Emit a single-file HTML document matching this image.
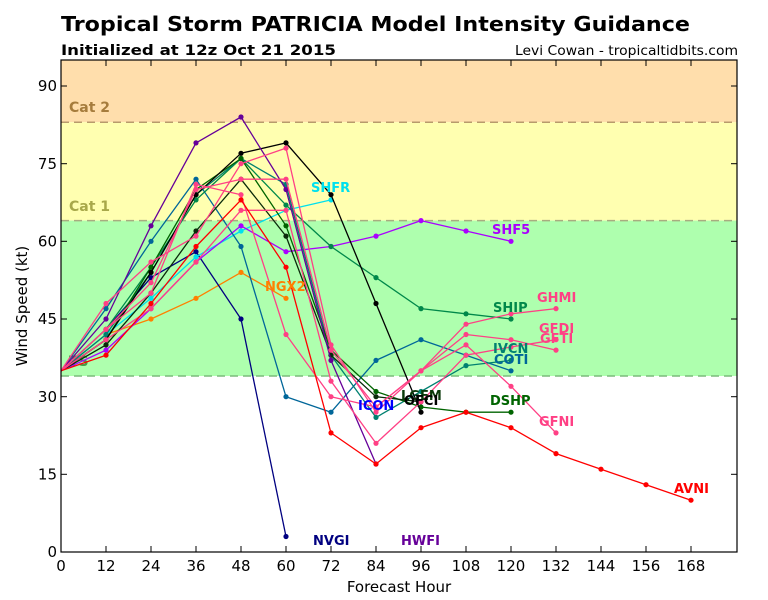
<!DOCTYPE html>
<html><head><meta charset="utf-8"><style>
html,body{margin:0;padding:0;background:#fff;}
svg{display:block;font-family:"DejaVu Sans","Liberation Sans",sans-serif;}
</style></head><body>
<svg width="768" height="600" viewBox="0 0 768 600" xmlns="http://www.w3.org/2000/svg">
<defs>
<marker id="mHW" markerUnits="userSpaceOnUse" markerWidth="6" markerHeight="6" refX="3" refY="3"><circle cx="3" cy="3" r="2.6" fill="#660099"/></marker>
<marker id="mOF" markerUnits="userSpaceOnUse" markerWidth="6" markerHeight="6" refX="3" refY="3"><circle cx="3" cy="3" r="2.6" fill="#000000"/></marker>
<marker id="mLG" markerUnits="userSpaceOnUse" markerWidth="6" markerHeight="6" refX="3" refY="3"><circle cx="3" cy="3" r="2.6" fill="#0a2a0a"/></marker>
<marker id="mDS" markerUnits="userSpaceOnUse" markerWidth="6" markerHeight="6" refX="3" refY="3"><circle cx="3" cy="3" r="2.6" fill="#006400"/></marker>
<marker id="mSH" markerUnits="userSpaceOnUse" markerWidth="6" markerHeight="6" refX="3" refY="3"><circle cx="3" cy="3" r="2.6" fill="#00884a"/></marker>
<marker id="mIV" markerUnits="userSpaceOnUse" markerWidth="6" markerHeight="6" refX="3" refY="3"><circle cx="3" cy="3" r="2.6" fill="#008070"/></marker>
<marker id="mCO" markerUnits="userSpaceOnUse" markerWidth="6" markerHeight="6" refX="3" refY="3"><circle cx="3" cy="3" r="2.6" fill="#006699"/></marker>
<marker id="mNV" markerUnits="userSpaceOnUse" markerWidth="6" markerHeight="6" refX="3" refY="3"><circle cx="3" cy="3" r="2.6" fill="#000080"/></marker>
<marker id="mSR" markerUnits="userSpaceOnUse" markerWidth="6" markerHeight="6" refX="3" refY="3"><circle cx="3" cy="3" r="2.6" fill="#00e0ee"/></marker>
<marker id="mS5" markerUnits="userSpaceOnUse" markerWidth="6" markerHeight="6" refX="3" refY="3"><circle cx="3" cy="3" r="2.6" fill="#aa00ff"/></marker>
<marker id="mNG" markerUnits="userSpaceOnUse" markerWidth="6" markerHeight="6" refX="3" refY="3"><circle cx="3" cy="3" r="2.6" fill="#ff8000"/></marker>
<marker id="mAV" markerUnits="userSpaceOnUse" markerWidth="6" markerHeight="6" refX="3" refY="3"><circle cx="3" cy="3" r="2.6" fill="#ff0000"/></marker>
<marker id="mPK" markerUnits="userSpaceOnUse" markerWidth="6" markerHeight="6" refX="3" refY="3"><circle cx="3" cy="3" r="2.6" fill="#ff4085"/></marker>
<clipPath id="plot"><rect x="61" y="60" width="676" height="492"/></clipPath>
</defs>

<!-- title -->
<text x="61" y="31" font-size="20.5" font-weight="bold" fill="#000" textLength="629" lengthAdjust="spacingAndGlyphs">Tropical Storm PATRICIA Model Intensity Guidance</text>
<text x="61" y="55" font-size="14.5" font-weight="bold" fill="#000" textLength="275" lengthAdjust="spacingAndGlyphs">Initialized at 12z Oct 21 2015</text>
<text x="738" y="55" font-size="13" fill="#000" text-anchor="end" textLength="223" lengthAdjust="spacingAndGlyphs">Levi Cowan - tropicaltidbits.com</text>

<!-- bands -->
<rect x="61" y="60" width="676" height="62.2" fill="#ffdeac"/>
<rect x="61" y="122.2" width="676" height="98.4" fill="#ffffb0"/>
<rect x="61" y="220.6" width="676" height="155.4" fill="#aeffae"/>
<line x1="61" y1="122.2" x2="737" y2="122.2" stroke="#b89a6c" stroke-width="1.5" stroke-dasharray="8,5"/>
<line x1="61" y1="220.6" x2="737" y2="220.6" stroke="#a8ac80" stroke-width="1.5" stroke-dasharray="8,5"/>
<line x1="61" y1="376" x2="737" y2="376" stroke="#7cbc7c" stroke-width="1.5" stroke-dasharray="8,5"/>
<text x="69" y="112" font-size="14" font-weight="bold" fill="#a67c3c">Cat 2</text>
<text x="69" y="211" font-size="14" font-weight="bold" fill="#a8a84a">Cat 1</text>
<text x="69" y="366" font-size="14" font-weight="bold" fill="#4a9a4a">TS</text>

<g clip-path="url(#plot)" fill="none" stroke-width="1.3" stroke-linejoin="round">
<!-- NGX2 -->
<polyline stroke="#ff8000" marker-mid="url(#mNG)" marker-end="url(#mNG)" points="61,370.8 106,334.5 151,319.0 196,298.3 241,272.4 286,298.3"/>
<!-- NVGI -->
<polyline stroke="#000080" marker-mid="url(#mNV)" marker-end="url(#mNV)" points="61,370.8 106,329.3 151,277.6 196,251.7 241,319.0 286,536.5"/>
<!-- SHFR -->
<polyline stroke="#00e0ee" marker-mid="url(#mSR)" marker-end="url(#mSR)" points="61,370.8 106,334.5 151,298.3 196,256.9 241,231.0 286,210.3 331,199.9"/>
<!-- SHF5 -->
<polyline stroke="#aa00ff" marker-mid="url(#mS5)" marker-end="url(#mS5)" points="61,370.8 106,350.1 151,308.6 196,262.0 241,225.8 286,251.7 331,246.5 376,236.1 421,220.6 466,231.0 511,241.3"/>
<!-- COTI -->
<polyline stroke="#006699" marker-mid="url(#mCO)" marker-end="url(#mCO)" points="61,370.8 106,308.6 151,241.3 196,179.2 241,246.5 286,396.7 331,412.2 376,360.4 421,339.7 466,355.2 511,370.8"/>
<!-- SHIP -->
<polyline stroke="#00884a" marker-mid="url(#mSH)" marker-end="url(#mSH)" points="61,370.8 106,329.3 151,267.2 196,199.9 241,158.5 286,205.1 331,246.5 376,277.6 421,308.6 466,313.8 511,319.0"/>
<!-- IVCN -->
<polyline stroke="#008070" marker-mid="url(#mIV)" marker-end="url(#mIV)" points="61,370.8 106,334.5 151,272.4 196,194.7 241,158.5 286,184.4 331,355.2 376,417.4 421,391.5 466,365.6 511,360.4"/>
<!-- DSHP -->
<polyline stroke="#006400" marker-mid="url(#mDS)" marker-end="url(#mDS)" points="61,370.8 106,339.7 151,267.2 196,189.5 241,158.5 286,225.8 331,350.1 376,391.5 421,407.0 466,412.2 511,412.2"/>
<!-- LGEM -->
<polyline stroke="#0a2a0a" marker-mid="url(#mLG)" marker-end="url(#mLG)" points="61,370.8 106,344.9 151,293.1 196,231.0 241,179.2 286,236.1 331,355.2 376,396.7 421,401.8"/>
<!-- OFCI -->
<polyline stroke="#000000" marker-mid="url(#mOF)" marker-end="url(#mOF)" points="61,370.8 106,339.7 151,272.4 196,194.7 241,153.3 286,142.9 331,194.7 376,303.5 421,412.2"/>
<!-- HWFI -->
<polyline stroke="#660099" marker-mid="url(#mHW)" marker-end="url(#mHW)" points="61,370.8 106,319.0 151,225.8 196,142.9 241,117.0 286,189.5 331,360.4 376,464.0"/>
<!-- pinks -->
<polyline stroke="#ff4085" marker-mid="url(#mPK)" marker-end="url(#mPK)" points="61,370.8 106,303.5 151,262.0 196,236.1 241,163.7 286,148.1 331,344.9 376,412.2 421,370.8 466,324.2 511,313.8 556,308.6"/>
<polyline stroke="#ff4085" marker-mid="url(#mPK)" marker-end="url(#mPK)" points="61,370.8 106,329.3 151,282.7 196,189.5 241,179.2 286,179.2 331,350.1 376,407.0 421,370.8 466,334.5 511,339.7 556,350.1"/>
<polyline stroke="#ff4085" marker-mid="url(#mPK)" marker-end="url(#mPK)" points="61,370.8 106,339.7 151,308.6 196,262.0 241,210.3 286,210.3 331,381.1 376,443.3 421,401.8 466,355.2 511,347.0 556,339.7"/>
<polyline stroke="#ff4085" marker-mid="url(#mPK)" marker-end="url(#mPK)" points="61,370.8 106,329.3 151,293.1 196,184.4 241,194.7 286,334.5 331,396.7 376,407.0 421,370.8 466,344.9 511,386.3 556,432.9"/>
<!-- AVNI -->
<polyline stroke="#ff0000" marker-mid="url(#mAV)" marker-end="url(#mAV)" points="61,370.8 106,355.2 151,303.5 196,246.5 241,199.9 286,267.2 331,432.9 376,464.0 421,427.7 466,412.2 511,427.7 556,453.6 601,469.2 646,484.7 691,500.2"/>
</g>

<!-- series labels -->
<g font-size="13" font-weight="bold">
<text x="311" y="192" fill="#00e0ee">SHFR</text>
<text x="265" y="291" fill="#ff8000">NGX2</text>
<text x="492" y="234" fill="#aa00ff">SHF5</text>
<text x="537" y="302" fill="#ff4085">GHMI</text>
<text x="493" y="312" fill="#00884a">SHIP</text>
<text x="539" y="333" fill="#ff4085">GFDI</text>
<text x="540" y="343" fill="#ff4085">GFTI</text>
<text x="493" y="353" fill="#008070">IVCN</text>
<text x="494" y="364" fill="#006699">COTI</text>
<text x="401" y="400" fill="#0a3a0a">LGEM</text>
<text x="404" y="405" fill="#000000">OFCI</text>
<text x="358" y="410" fill="#0000ff">ICON</text>
<text x="490" y="405" fill="#006400">DSHP</text>
<text x="539" y="426" fill="#ff4085">GFNI</text>
<text x="674" y="493" fill="#ff0000">AVNI</text>
<text x="313" y="545" fill="#000080">NVGI</text>
<text x="401" y="545" fill="#660099">HWFI</text>
</g>

<!-- axes frame -->
<rect x="61" y="60" width="676" height="492" fill="none" stroke="#000" stroke-width="1.2"/>

<!-- ticks -->
<g stroke="#000" stroke-width="1">
<line x1="106" y1="552" x2="106" y2="546"/><line x1="151" y1="552" x2="151" y2="546"/><line x1="196" y1="552" x2="196" y2="546"/><line x1="241" y1="552" x2="241" y2="546"/><line x1="286" y1="552" x2="286" y2="546"/><line x1="331" y1="552" x2="331" y2="546"/><line x1="376" y1="552" x2="376" y2="546"/><line x1="421" y1="552" x2="421" y2="546"/><line x1="466" y1="552" x2="466" y2="546"/><line x1="511" y1="552" x2="511" y2="546"/><line x1="556" y1="552" x2="556" y2="546"/><line x1="601" y1="552" x2="601" y2="546"/><line x1="646" y1="552" x2="646" y2="546"/><line x1="691" y1="552" x2="691" y2="546"/>
<line x1="106" y1="60" x2="106" y2="66"/><line x1="151" y1="60" x2="151" y2="66"/><line x1="196" y1="60" x2="196" y2="66"/><line x1="241" y1="60" x2="241" y2="66"/><line x1="286" y1="60" x2="286" y2="66"/><line x1="331" y1="60" x2="331" y2="66"/><line x1="376" y1="60" x2="376" y2="66"/><line x1="421" y1="60" x2="421" y2="66"/><line x1="466" y1="60" x2="466" y2="66"/><line x1="511" y1="60" x2="511" y2="66"/><line x1="556" y1="60" x2="556" y2="66"/><line x1="601" y1="60" x2="601" y2="66"/><line x1="646" y1="60" x2="646" y2="66"/><line x1="691" y1="60" x2="691" y2="66"/>
<line x1="61" y1="474.3" x2="67" y2="474.3"/><line x1="61" y1="396.7" x2="67" y2="396.7"/><line x1="61" y1="319" x2="67" y2="319"/><line x1="61" y1="241.3" x2="67" y2="241.3"/><line x1="61" y1="163.7" x2="67" y2="163.7"/><line x1="61" y1="86" x2="67" y2="86"/>
<line x1="737" y1="474.3" x2="731" y2="474.3"/><line x1="737" y1="396.7" x2="731" y2="396.7"/><line x1="737" y1="319" x2="731" y2="319"/><line x1="737" y1="241.3" x2="731" y2="241.3"/><line x1="737" y1="163.7" x2="731" y2="163.7"/><line x1="737" y1="86" x2="731" y2="86"/>
</g>

<!-- tick labels -->
<g font-size="15" fill="#000" text-anchor="middle">
<text x="61" y="571">0</text><text x="106" y="571">12</text><text x="151" y="571">24</text><text x="196" y="571">36</text><text x="241" y="571">48</text><text x="286" y="571">60</text><text x="331" y="571">72</text><text x="376" y="571">84</text><text x="421" y="571">96</text><text x="466" y="571">108</text><text x="511" y="571">120</text><text x="556" y="571">132</text><text x="601" y="571">144</text><text x="646" y="571">156</text><text x="691" y="571">168</text>
</g>
<g font-size="15" fill="#000" text-anchor="end">
<text x="57" y="557">0</text><text x="57" y="479.5">15</text><text x="57" y="401.9">30</text><text x="57" y="324.2">45</text><text x="57" y="246.5">60</text><text x="57" y="168.9">75</text><text x="57" y="91.2">90</text>
</g>
<text x="399" y="592" font-size="15" text-anchor="middle" fill="#000">Forecast Hour</text>
<text transform="translate(27,306) rotate(-90)" font-size="15" text-anchor="middle" fill="#000">Wind Speed (kt)</text>
</svg>
</body></html>
